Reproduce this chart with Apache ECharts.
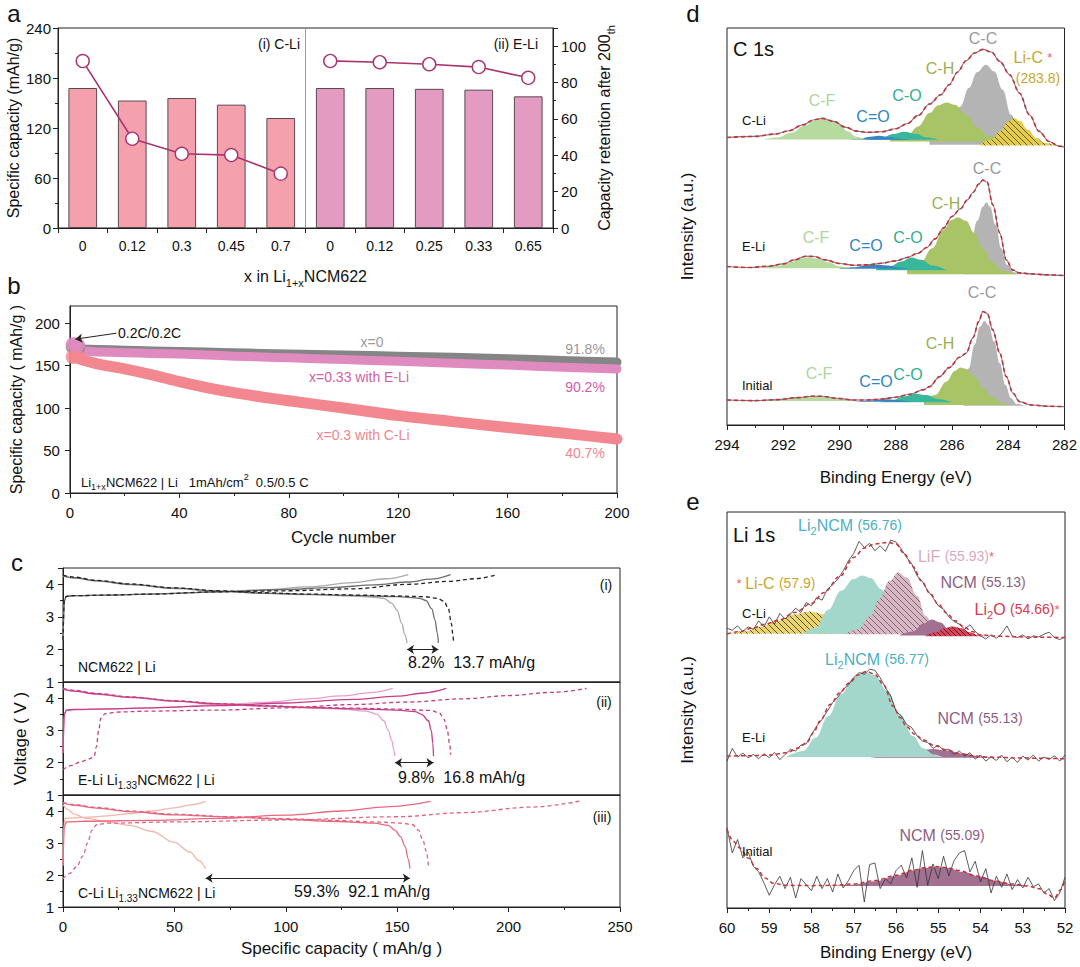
<!DOCTYPE html>
<html><head><meta charset="utf-8">
<script src="https://cdn.jsdelivr.net/npm/echarts@6/dist/echarts.min.js"></script>
<style>html,body{margin:0;padding:0;background:#fff}#chart{width:1080px;height:967px}</style>
</head><body><div id="chart"></div>
<script>
const FONT = 'Arial, "Liberation Sans", Helvetica, sans-serif';

// ---------------- Panel a ----------------
const aCategories = ['0','0.12','0.3','0.45','0.7','0','0.12','0.25','0.33','0.65'];
const aCapacityCLi = [168, 153, 156, 148, 132];
const aCapacityELi = [168, 168, 167, 166, 158];
const aRetentionCLi = [91.8, 49.1, 40.8, 40.1, 29.9];
const aRetentionELi = [91.9, 91.2, 90.1, 88.5, 82.6];

// ---------------- Panel b ----------------
const bFormCycles = [1, 2, 3];
const bFormX0 = [172, 171, 171];
const bFormELi = [175, 175, 174];
const bFormCLi = [160, 161, 160];
const bCycles = [4, 10, 20, 30, 40, 50, 60, 70, 80, 100, 120, 140, 160, 180, 200];
const bX0  = [169.5, 168.8, 168, 167.2, 166.5, 165.8, 165, 164.2, 163.5, 162.3, 161, 159.6, 158, 156, 154];
const bELi = [167, 166, 165, 164.2, 163.5, 162.3, 161, 160, 159, 157, 155, 152.6, 150.5, 148, 146];
const bCLi = [157, 152, 146, 139, 131, 124, 118, 113, 108.5, 100, 91, 84, 77, 70.5, 63.5];
const bArrow = [[17, 188], [2, 181]];

// ---------------- Panel c (capacity mAh/g, voltage V) ----------------
const c1DashCharge  = [[0,2.3],[0.6,3.5],[1.5,3.63],[5,3.65],[20,3.67],[40,3.7],[70,3.77],[100,3.8],[130,3.86],[155,4.0],[173,4.09],[185,4.17],[195,4.3]];
const c1DashDis     = [[0,4.28],[5,4.22],[15,4.12],[30,4.01],[50,3.89],[70,3.8],[90,3.74],[110,3.7],[130,3.67],[150,3.64],[162,3.62],[168,3.57],[171,3.48],[173,3.25],[174.3,2.8],[175,2.45],[175.3,2.2]];
const c1DarkCharge  = [[0,2.3],[0.6,3.5],[1.5,3.63],[5,3.65],[20,3.67],[40,3.7],[70,3.77],[100,3.84],[120,3.9],[140,3.98],[155,4.07],[165,4.16],[174,4.3]];
const c1DarkDis     = [[0,4.26],[5,4.2],[15,4.11],[30,4.0],[50,3.88],[70,3.79],[90,3.73],[110,3.69],[130,3.66],[150,3.62],[160,3.57],[163,3.5],[165.5,3.25],[167,2.9],[168,2.5],[168.5,2.2]];
const c1LightCharge = [[0,2.3],[0.6,3.5],[1.5,3.63],[5,3.65],[20,3.67],[40,3.7],[70,3.77],[90,3.83],[110,3.92],[130,4.05],[145,4.17],[155,4.3]];
const c1LightDis    = [[0,4.25],[5,4.19],[15,4.1],[30,3.99],[50,3.87],[70,3.78],[90,3.72],[110,3.68],[130,3.64],[140,3.6],[144,3.57],[147.5,3.42],[150,3.2],[152,2.8],[153.5,2.45],[154.4,2.2]];

const c2DashCharge  = [[0,1.78],[4,1.92],[8,2.03],[12,2.12],[14,2.2],[15,2.5],[16,3.0],[17,3.38],[19,3.52],[24,3.57],[40,3.6],[70,3.63],[100,3.7],[130,3.8],[155,3.88],[180,3.98],[200,4.08],[220,4.18],[235,4.3]];
const c2DashDis     = [[0,4.3],[5,4.24],[15,4.15],[30,4.04],[50,3.92],[70,3.83],[90,3.77],[110,3.72],[130,3.69],[150,3.66],[165,3.62],[169,3.54],[171,3.35],[172.5,3.0],[173.5,2.6],[174,2.25]];
const c2DarkCharge  = [[0,2.3],[0.6,3.5],[1.5,3.63],[5,3.65],[20,3.67],[40,3.7],[70,3.77],[100,3.85],[130,3.96],[150,4.06],[162,4.16],[172,4.3]];
const c2DarkDis     = [[0,4.28],[5,4.22],[15,4.13],[30,4.03],[50,3.91],[70,3.82],[90,3.76],[110,3.71],[130,3.67],[150,3.63],[158,3.58],[161,3.5],[164,3.3],[165.3,3.0],[166,2.6],[166.3,2.2]];
const c2LightCharge = [[0,2.3],[0.6,3.5],[1.5,3.62],[5,3.64],[20,3.66],[40,3.7],[70,3.79],[90,3.87],[110,3.98],[125,4.07],[138,4.17],[148,4.3]];
const c2LightDis    = [[0,4.28],[5,4.22],[15,4.12],[30,4.02],[50,3.9],[70,3.81],[90,3.75],[110,3.7],[125,3.66],[136,3.6],[141,3.5],[144,3.3],[146,3.0],[147.5,2.7],[148.5,2.4],[149,2.2]];

const c3DashCharge  = [[0,1.88],[3,2.05],[6,2.25],[9,2.6],[11,3.0],[13,3.4],[15,3.57],[20,3.62],[50,3.66],[100,3.72],[150,3.82],[180,3.95],[210,4.12],[233,4.32]];
const c3DashDis     = [[0,4.27],[5,4.2],[15,4.11],[30,4.0],[50,3.9],[75,3.82],[100,3.76],[120,3.71],[140,3.66],[152,3.62],[157,3.57],[159.5,3.4],[161.5,3.1],[163,2.75],[164,2.3]];
const c3SolidCharge = [[0,2.3],[0.6,3.5],[1.5,3.66],[10,3.68],[40,3.71],[70,3.77],[100,3.87],[125,4.0],[145,4.13],[165,4.3]];
const c3SolidDis    = [[0,4.25],[5,4.18],[15,4.09],[30,3.98],[50,3.88],[75,3.81],[100,3.74],[120,3.68],[140,3.62],[146,3.55],[149,3.4],[151.5,3.2],[153.5,2.9],[155,2.5],[155.7,2.2]];
const c3LightCharge = [[0,2.3],[0.4,3.6],[1,3.77],[10,3.8],[20,3.85],[30,3.92],[40,4.0],[50,4.1],[58,4.2],[64,4.3]];
const c3LightDis    = [[0,4.2],[2,4.05],[5,3.9],[10,3.78],[20,3.66],[30,3.55],[40,3.36],[50,3.02],[57,2.72],[61,2.45],[64,2.2]];
const cArrows = [[154.4, 168.5, 2.0], [149, 166.3, 2.0], [64, 155.7, 1.9]];

// ---------------- Panel d (binding energy eV, offset intensity) ----------------
const dCLiEnv = [[294,862],[293,865],[292.3,872],[291.8,882],[291.3,900],[290.9,915],[290.6,919],[290.2,910],[289.8,893],[289.4,881],[289,877],[288.5,879],[288,888],[287.6,903],[287.2,928],[286.8,962],[286.4,990],[286.1,1020],[285.8,1058],[285.5,1092],[285.2,1115],[284.9,1126],[284.6,1118],[284.3,1090],[283.95,1050],[283.6,995],[283.25,930],[282.9,880],[282.55,850],[282.2,836],[282,833]];
const dCLiCF = [[292.7,856],[292.2,862],[291.7,876],[291.2,899],[290.9,912],[290.6,917],[290.3,912],[290,900],[289.7,880],[289.4,864],[289.1,857]];
const dCLiCdO = [[289.7,855],[289.3,858],[288.9,864],[288.6,867],[288.3,864],[287.9,858],[287.5,855]];
const dCLiCO = [[289,855],[288.5,860],[288.1,872],[287.7,879],[287.3,873],[286.9,862],[286.5,856]];
const dCLiCH = [[288.2,855],[287.6,868],[287.2,895],[286.8,935],[286.5,958],[286.2,967],[285.9,960],[285.5,930],[285.1,892],[284.7,866],[284.2,850]];
const dCLiCC = [[286.8,855],[286.4,880],[286,920],[285.7,955],[285.4,1010],[285.1,1058],[284.8,1080],[284.5,1060],[284.2,1005],[283.9,930],[283.6,880],[283.3,855],[283,845],[282.6,840]];
const dCLiLiC = [[285,842],[284.6,855],[284.3,880],[284,910],[283.8,920],[283.6,912],[283.3,885],[283,860],[282.7,845],[282.3,838]];

const dELiEnv = [[294,475],[293.2,472],[292.5,476],[292,483],[291.6,495],[291.2,506],[290.9,505],[290.5,495],[290,484],[289.5,479],[289,480],[288.5,485],[288,492],[287.6,502],[287.2,515],[286.9,532],[286.6,558],[286.3,590],[286,625],[285.7,648],[285.45,675],[285.25,697],[285.05,722],[284.9,734],[284.75,728],[284.55,660],[284.3,575],[284.07,495],[283.85,465],[283.6,456],[283.2,453],[282.6,450],[282,448]];
const dELiCF = [[292.7,472],[292.2,477],[291.7,489],[291.4,499],[291.1,503],[290.8,499],[290.4,488],[290,476],[289.6,470]];
const dELiCdO = [[290,470],[289.5,473],[289,479],[288.7,481],[288.3,478],[287.9,472],[287.5,468]];
const dELiCO = [[288.7,468],[288.2,476],[287.8,490],[287.45,502],[287.1,495],[286.7,478],[286.2,464]];
const dELiCH = [[287.6,465],[287.1,490],[286.7,530],[286.3,585],[286,615],[285.8,623],[285.5,612],[285.2,575],[284.9,530],[284.6,490],[284.2,462],[283.7,452]];
const dELiCC = [[285.6,460],[285.3,560],[285.1,612],[284.9,655],[284.78,668],[284.65,655],[284.45,600],[284.25,530],[284.05,480],[283.8,458],[283.5,452]];

const dIniEnv = [[294,75],[293,73],[292.2,76],[291.5,82],[291,86],[290.6,86],[290.1,80],[289.5,75],[289,75],[288.5,78],[288,83],[287.5,92],[287,106],[286.8,115],[286.44,145],[286.1,172],[285.73,203],[285.5,215],[285.25,262],[285.05,310],[284.9,340],[284.75,335],[284.55,285],[284.3,215],[284.07,145],[283.83,95],[283.6,70],[283.2,60],[282.5,56],[282,55]];
const dIniCF = [[292.8,72],[292.2,75],[291.6,81],[291.1,85],[290.8,86],[290.4,83],[289.9,77],[289.4,72]];
const dIniCdO = [[289.5,70],[289,73],[288.6,76],[288.3,77],[287.9,74],[287.5,70]];
const dIniCO = [[288.6,68],[288.1,75],[287.7,86],[287.3,94],[286.9,90],[286.5,78],[286,68]];
const dIniCH = [[287,68],[286.6,90],[286.2,130],[285.9,162],[285.7,172],[285.5,168],[285.2,145],[284.9,112],[284.6,85],[284.2,66],[283.9,60]];
const dIniCC = [[285.6,100],[285.4,170],[285.2,240],[285,295],[284.85,312],[284.7,300],[284.5,250],[284.3,185],[284.1,120],[283.9,80],[283.7,63],[283.4,58]];

// ---------------- Panel e (binding energy eV, offset intensity) ----------------
const eCLiRaw = [[60,838],[59.875,832],[59.75,845],[59.625,828],[59.5,842],[59.375,835],[59.25,860],[59.125,842],[59,872],[58.875,850],[58.75,882],[58.625,866],[58.5,880],[58.375,898],[58.25,885],[58.125,915],[58,905],[57.875,930],[57.75,922],[57.625,955],[57.5,968],[57.375,985],[57.25,1010],[57.125,1040],[57,1062],[56.875,1098],[56.75,1080],[56.625,1092],[56.5,1070],[56.375,1085],[56.25,1068],[56.125,1102],[56,1096],[55.875,1075],[55.75,1050],[55.625,1030],[55.5,995],[55.375,978],[55.25,950],[55.125,930],[55,905],[54.875,895],[54.75,872],[54.625,858],[54.5,850],[54.375,835],[54.25,848],[54.125,828],[54,815],[53.875,806],[53.75,818],[53.625,808],[53.5,822],[53.375,845],[53.25,815],[53.125,810],[53,818],[52.875,806],[52.75,815],[52.625,812],[52.5,820],[52.375,826],[52.25,810],[52.125,804],[52,812]];
const eCLiFit = [[60,821],[59.7,828],[59.4,838],[59.1,850],[58.75,863],[58.4,885],[58,912],[57.7,945],[57.33,993],[57,1050],[56.75,1078],[56.5,1090],[56.2,1095],[56,1090],[55.8,1060],[55.6,1023],[55.4,980],[55.2,943],[55,910],[54.8,883],[54.6,860],[54.4,843],[54.2,828],[54,818],[53.6,814],[53,812],[52.5,811],[52,810]];
const eCLiLiC = [[60,821],[59.6,828],[59.2,842],[58.8,860],[58.4,879],[58.05,888],[57.7,880],[57.4,862],[57.1,840],[56.8,826],[56.5,821]];
const eCLiLi2NCM = [[58.2,822],[57.9,840],[57.6,893],[57.3,950],[57,985],[56.8,996],[56.6,988],[56.35,955],[56.1,900],[55.85,850],[55.6,826],[55.3,821]];
const eCLiLiF = [[57.2,821],[56.9,835],[56.6,875],[56.4,925],[56.15,980],[55.95,1005],[55.75,990],[55.5,935],[55.3,875],[55.1,840],[54.85,825],[54.6,820]];
const eCLiNCM = [[55.9,818],[55.6,828],[55.35,852],[55.15,864],[54.95,855],[54.75,835],[54.5,820],[54.3,816]];
const eCLiLi2O = [[55.3,816],[55.05,826],[54.85,838],[54.66,843],[54.45,838],[54.25,826],[54.05,817],[53.85,814]];

const eELiRaw = [[60,440],[59.875,478],[59.75,452],[59.625,464],[59.5,450],[59.375,460],[59.25,447],[59.125,462],[59,450],[58.875,466],[58.75,444],[58.625,460],[58.5,475],[58.375,470],[58.25,488],[58.125,492],[58,520],[57.875,545],[57.75,565],[57.625,590],[57.5,615],[57.375,632],[57.25,655],[57.125,668],[57,690],[56.875,705],[56.75,700],[56.625,715],[56.5,712],[56.375,690],[56.25,660],[56.125,635],[56,590],[55.875,575],[55.75,550],[55.625,540],[55.5,515],[55.375,500],[55.25,496],[55.125,478],[55,488],[54.875,472],[54.75,476],[54.625,460],[54.5,470],[54.375,455],[54.25,465],[54.125,446],[54,458],[53.875,440],[53.75,452],[53.625,442],[53.5,458],[53.375,438],[53.25,452],[53.125,436],[53,455],[52.875,443],[52.75,458],[52.625,440],[52.5,452],[52.375,445],[52.25,456],[52.125,440],[52,458]];
const eELiFit = [[60,455],[59.5,456],[59,458],[58.6,465],[58.3,480],[58.1,497],[57.95,525],[57.8,560],[57.55,610],[57.33,645],[57.1,675],[56.9,698],[56.7,708],[56.5,700],[56.3,670],[56.07,605],[55.9,570],[55.75,543],[55.55,520],[55.35,503],[55.1,487],[54.8,473],[54.5,463],[54.2,456],[53.8,452],[53,449],[52,447]];
const eELiLi2NCM = [[58.6,452],[58.2,470],[57.9,510],[57.6,575],[57.3,640],[57,690],[56.77,708],[56.5,697],[56.2,650],[55.9,580],[55.6,515],[55.35,478],[55.1,460],[54.9,453]];
const eELiNCM = [[56.6,450],[56.2,455],[55.8,465],[55.4,473],[55.13,476],[54.8,472],[54.4,462],[54,454],[53.6,450]];

const eIniRaw = [[60,240],[59.875,165],[59.75,205],[59.625,150],[59.5,168],[59.375,125],[59.25,108],[59.125,75],[59,38],[58.875,70],[58.75,95],[58.625,58],[58.5,92],[58.375,30],[58.25,88],[58.125,70],[58,52],[57.875,95],[57.75,58],[57.625,88],[57.5,48],[57.375,102],[57.25,60],[57.125,82],[57,112],[56.875,128],[56.75,18],[56.625,130],[56.5,135],[56.375,58],[56.25,88],[56.125,72],[56,112],[55.875,128],[55.75,90],[55.625,150],[55.5,62],[55.375,172],[55.25,68],[55.125,132],[55,88],[54.875,155],[54.75,96],[54.625,142],[54.5,165],[54.375,172],[54.25,108],[54.125,140],[54,78],[53.875,118],[53.75,45],[53.625,95],[53.5,62],[53.375,102],[53.25,55],[53.125,85],[53,60],[52.875,92],[52.75,64],[52.625,72],[52.5,45],[52.375,58],[52.25,22],[52.125,45],[52,92]];
const eIniFit = [[60,236],[59.85,200],[59.7,180],[59.5,150],[59.3,118],[59.1,90],[58.9,74],[58.6,68],[58,67],[57.5,68],[57,72],[56.5,82],[56,98],[55.6,113],[55.3,121],[55.05,124],[54.8,121],[54.5,112],[54.1,96],[53.7,82],[53.3,73],[52.9,66],[52.6,58],[52.4,40],[52.25,30],[52.1,55],[52,85]];
const eIniNCM = [[57.6,66],[57,70],[56.5,80],[56,96],[55.6,112],[55.3,120],[55.05,123],[54.8,120],[54.4,108],[54,94],[53.6,80],[53.2,70],[52.8,66]];

// ================= helpers =================
const pts = (xs, ys) => xs.map((x, i) => [x, ys[i]]);
function hatch(bg, line, s) {
  s = s || 6;
  const c = document.createElement('canvas'); c.width = s; c.height = s;
  const g = c.getContext('2d');
  g.fillStyle = bg; g.fillRect(0, 0, s, s);
  g.strokeStyle = line; g.lineWidth = 1;
  g.beginPath();
  for (let k = -1; k <= 1; k++) { g.moveTo(k * s, 0); g.lineTo(k * s + s, s); }
  g.stroke();
  return { image: c, repeat: 'repeat' };
}
function mkRich(size, color, extra) {
  const LH = Math.round(size * 1.45), sh = Math.round(size * 0.28);
  const o = {
    n: { fontSize: size, fontFamily: FONT, color: color, fill: color, lineHeight: LH },
    s: { fontSize: Math.round(size * 0.68), fontFamily: FONT, color: color, fill: color, lineHeight: LH - 2 * sh, verticalAlign: 'bottom' },
    p: { fontSize: Math.round(size * 0.68), fontFamily: FONT, color: color, fill: color, lineHeight: LH - 2 * sh, verticalAlign: 'top' }
  };
  if (extra) for (const k in extra) o[k] = Object.assign({ fontFamily: FONT, lineHeight: LH }, extra[k], { fill: extra[k].color });
  return o;
}
function gt(x, y, text, size, color, align, rich) {
  return { type: 'text', x: x, y: y, silent: true, z: 100,
    style: { text: text, fontSize: size, fontFamily: FONT, fill: color, align: align || 'left', verticalAlign: 'middle',
      textAlign: align || 'left', textVerticalAlign: 'middle', rich: rich } };
}
const AX = '#222';
function valAxis(o) {
  return Object.assign({
    type: 'value', axisLine: { show: true, onZero: false, lineStyle: { color: AX, width: 1 } },
    axisTick: { show: true, length: 5, lineStyle: { color: AX } },
    minorTick: { show: true, splitNumber: 2, length: 3, lineStyle: { color: AX } },
    axisLabel: { color: '#111', fontSize: 14, fontFamily: FONT },
    splitLine: { show: false }, minorSplitLine: { show: false }
  }, o);
}
function lab(size, margin, extra) {
  return Object.assign({ color: '#111', fontSize: size, fontFamily: FONT, margin: margin }, extra || {});
}
function curve(xi, yi, data, color, dashed, w) {
  return { type: 'line', xAxisIndex: xi, yAxisIndex: yi, data: data, showSymbol: false, symbol: 'none', silent: true,
    smooth: 0.35, smoothMonotone: 'x',
    lineStyle: { color: color, width: w || 1.3, type: dashed ? [4, 3] : 'solid' } };
}
function area(xi, yi, data, color, opacity) {
  const origin = Math.min.apply(null, data.map(d => d[1]));
  return { type: 'line', xAxisIndex: xi, yAxisIndex: yi, data: data, showSymbol: false, symbol: 'none', silent: true,
    smooth: 0.4, smoothMonotone: 'x', lineStyle: { width: 0, opacity: 0 },
    areaStyle: { color: color, opacity: opacity == null ? 1 : opacity, origin: origin }, z: 2 };
}
function arrowLine(data, both) {
  return { silent: true, symbol: both ? ['arrow', 'arrow'] : ['none', 'arrow'], symbolSize: 7, animation: false,
    label: { show: false }, lineStyle: { color: '#222', width: 1, type: 'solid' }, data: data };
}

// ================= layout =================
const grids = [
  { left: 58, top: 28, width: 495, height: 200 },   // a
  { left: 69, top: 306, width: 548, height: 187 },  // b
  { left: 63, top: 568, width: 557, height: 114 },  // c i
  { left: 63, top: 682, width: 557, height: 113 },  // c ii
  { left: 63, top: 795, width: 557, height: 112 },  // c iii
  { left: 727, top: 28, width: 338, height: 397 },  // d
  { left: 727, top: 512, width: 338, height: 396 }  // e
].map(g => Object.assign({ show: true, borderColor: AX, borderWidth: 1, backgroundColor: 'transparent', containLabel: false }, g));

const richAx = mkRich(16, '#111');
const xAxes = [
  { type: 'category', gridIndex: 0, data: aCategories, axisLine: { lineStyle: { color: AX } },
    axisTick: { show: true, length: 5, lineStyle: { color: AX } }, axisLabel: lab(14, 11),
    name: '{n|x in Li}{s|1+x}{n|NCM622}', nameLocation: 'middle', nameGap: 37, nameTextStyle: { rich: richAx } },
  valAxis({ gridIndex: 1, min: 0, max: 200, interval: 40, axisLabel: lab(15, 12),
    name: 'Cycle number', nameLocation: 'middle', nameGap: 36, nameTextStyle: { fontSize: 17, color: '#111', fontFamily: FONT } }),
  valAxis({ gridIndex: 2, min: 0, max: 250, interval: 50, axisLabel: { show: false }, axisTick: { show: false }, minorTick: { show: false } }),
  valAxis({ gridIndex: 3, min: 0, max: 250, interval: 50, axisLabel: { show: false }, axisTick: { show: false }, minorTick: { show: false } }),
  valAxis({ gridIndex: 4, min: 0, max: 250, interval: 50, axisLabel: lab(15, 12),
    name: 'Specific capacity ( mAh/g )', nameLocation: 'middle', nameGap: 33, nameTextStyle: { fontSize: 17, color: '#111', fontFamily: FONT } }),
  valAxis({ gridIndex: 5, min: 282, max: 294, interval: 2, inverse: true, axisLabel: lab(15, 12),
    name: 'Binding Energy (eV)', nameLocation: 'middle', nameGap: 44, nameTextStyle: { fontSize: 17, color: '#111', fontFamily: FONT } }),
  valAxis({ gridIndex: 6, min: 52, max: 60, interval: 1, inverse: true, axisLabel: lab(15, 12),
    name: 'Binding Energy (eV)', nameLocation: 'middle', nameGap: 36, nameTextStyle: { fontSize: 17, color: '#111', fontFamily: FONT } }),
  { type: 'value', gridIndex: 0, min: 0, max: 10, show: false }
];
const hiddenY = (gi, max, name) => ({ type: 'value', gridIndex: gi, min: 0, max: max, axisLine: { show: false }, axisTick: { show: false },
  axisLabel: { show: false }, splitLine: { show: false }, name: name, nameLocation: 'middle', nameGap: 31,
  nameTextStyle: { fontSize: 17, color: '#111', fontFamily: FONT } });
const yAxes = [
  valAxis({ gridIndex: 0, min: 0, max: 240, interval: 60, axisLabel: lab(15, 7),
    name: 'Specific capacity (mAh/g)', nameLocation: 'middle', nameGap: 37, nameRotate: 90, nameTextStyle: { fontSize: 16, color: '#111', fontFamily: FONT } }),
  valAxis({ gridIndex: 0, position: 'right', min: 0, max: 110, interval: 20, axisLabel: lab(15, 8, { showMaxLabel: false }),
    name: '{n|Capacity retention after 200}{s|th}', nameLocation: 'middle', nameGap: 40, nameRotate: 90, nameTextStyle: { rich: richAx } }),
  valAxis({ gridIndex: 1, min: 0, max: 220, interval: 50, minorTick: { show: false }, axisLabel: lab(15, 10, { showMaxLabel: false }),
    name: 'Specific capacity ( mAh/g )', nameLocation: 'middle', nameGap: 44, nameTextStyle: { fontSize: 16, color: '#111', fontFamily: FONT } }),
  valAxis({ gridIndex: 2, min: 1, max: 4.5, interval: 1, axisLabel: lab(15, 9, { showMaxLabel: false }) }),
  valAxis({ gridIndex: 3, min: 1, max: 4.5, interval: 1, axisLabel: lab(15, 9, { showMaxLabel: false }),
    name: 'Voltage ( V )', nameLocation: 'middle', nameGap: 34, nameTextStyle: { fontSize: 17, color: '#111', fontFamily: FONT } }),
  valAxis({ gridIndex: 4, min: 1, max: 4.5, interval: 1, axisLabel: lab(15, 9, { showMaxLabel: false }) }),
  hiddenY(5, 1190, 'Intensity (a.u.)'),
  hiddenY(6, 1186, 'Intensity (a.u.)')
];

// ================= series =================
const S = [];
// panel a
const aBarColors = { cli: '#F4A1AD', eli: '#E39BC1' };
S.push({ type: 'bar', xAxisIndex: 0, yAxisIndex: 0, barWidth: '58%', silent: true,
  data: aCapacityCLi.map(v => ({ value: v, itemStyle: { color: aBarColors.cli } }))
    .concat(aCapacityELi.map(v => ({ value: v, itemStyle: { color: aBarColors.eli } }))),
  itemStyle: { borderColor: '#5a4a4f', borderWidth: 1 } });
const retStyle = { type: 'line', xAxisIndex: 0, yAxisIndex: 1, symbol: 'circle', symbolSize: 13, silent: true, z: 5,
  lineStyle: { color: '#A8356F', width: 1.6 }, itemStyle: { color: '#fff', borderColor: '#A8356F', borderWidth: 1.4 } };
S.push(Object.assign({}, retStyle, { data: aRetentionCLi.concat(aRetentionELi.map(() => '-')) }));
S.push(Object.assign({}, retStyle, { data: aRetentionCLi.map(() => '-').concat(aRetentionELi) }));
S.push({ type: 'line', xAxisIndex: 7, yAxisIndex: 0, data: [], silent: true,
  markLine: { silent: true, symbol: ['none', 'none'], label: { show: false }, lineStyle: { color: '#999', width: 1, type: 'solid' }, data: [{ xAxis: 5 }] } });

// panel b
const bCol = { x0: '#858585', eli: '#E08BBF', cli: '#F2878F' };
S.push({ type: 'line', xAxisIndex: 1, yAxisIndex: 2, data: pts(bCycles, bCLi), showSymbol: false, symbol: 'none', silent: true, smooth: 0.3,
  lineStyle: { color: bCol.cli, width: 11, cap: 'round', join: 'round' } });
S.push({ type: 'line', xAxisIndex: 1, yAxisIndex: 2, data: pts(bCycles, bX0), showSymbol: false, symbol: 'none', silent: true, smooth: 0.3,
  lineStyle: { color: bCol.x0, width: 9, cap: 'round', join: 'round' },
  markLine: arrowLine([[{ coord: bArrow[0] }, { coord: bArrow[1] }]], false) });
S.push({ type: 'line', xAxisIndex: 1, yAxisIndex: 2, data: pts(bCycles, bELi), showSymbol: false, symbol: 'none', silent: true, smooth: 0.3,
  lineStyle: { color: bCol.eli, width: 9, cap: 'round', join: 'round' } });
[[bFormX0, bCol.x0], [bFormCLi, bCol.cli], [bFormELi, bCol.eli]].forEach(([ys, col]) => {
  S.push({ type: 'scatter', xAxisIndex: 1, yAxisIndex: 2, data: pts(bFormCycles, ys), symbolSize: 14, silent: true, itemStyle: { color: col }, z: 4 });
});

// panel c
const cSets = [
  { xi: 2, yi: 3, cols: ['#222222', '#6E6E6E', '#A9A9A9'], d: [c1DashCharge, c1DashDis, c1DarkCharge, c1DarkDis, c1LightCharge, c1LightDis] },
  { xi: 3, yi: 4, cols: ['#C2407F', '#C93B8B', '#E7A0CB'], d: [c2DashCharge, c2DashDis, c2DarkCharge, c2DarkDis, c2LightCharge, c2LightDis] },
  { xi: 4, yi: 5, cols: ['#E2637B', '#E8697F', '#F5B5A8'], d: [c3DashCharge, c3DashDis, c3SolidCharge, c3SolidDis, c3LightCharge, c3LightDis] }
];
cSets.forEach((set, k) => {
  const [dc, dd, sc, sd, lc, ld] = set.d;
  S.push(curve(set.xi, set.yi, lc, set.cols[2], false));
  S.push(curve(set.xi, set.yi, ld, set.cols[2], false));
  S.push(curve(set.xi, set.yi, sc, set.cols[1], false));
  S.push(curve(set.xi, set.yi, sd, set.cols[1], false));
  S.push(curve(set.xi, set.yi, dc, set.cols[0], true));
  const last = curve(set.xi, set.yi, dd, set.cols[0], true);
  const a = cArrows[k];
  last.markLine = arrowLine([[{ coord: [a[0], a[2]] }, { coord: [a[1], a[2]] }]], true);
  S.push(last);
});

// panel d
const dCol = { cf: '#B7DA9F', cdo: '#3A84C1', co: '#38B79A', ch: '#A8C466', cc: '#B4B4B4' };
const liCHatch = hatch('#E3CC4C', '#6b5d2a', 6);
[[dCLiEnv, [[dCLiCC, dCol.cc], [dCLiCH, dCol.ch], [dCLiCO, dCol.co], [dCLiCdO, dCol.cdo], [dCLiCF, dCol.cf], [dCLiLiC, liCHatch]]],
 [dELiEnv, [[dELiCC, dCol.cc], [dELiCH, dCol.ch], [dELiCO, dCol.co], [dELiCdO, dCol.cdo], [dELiCF, dCol.cf]]],
 [dIniEnv, [[dIniCC, dCol.cc], [dIniCH, dCol.ch], [dIniCO, dCol.co], [dIniCdO, dCol.cdo], [dIniCF, dCol.cf]]]
].forEach(([env, comps]) => {
  comps.forEach(([d, c]) => S.push(area(5, 6, d, c)));
  S.push(Object.assign(curve(5, 6, env, '#7a7a7a', false, 1.1), { z: 3 }));
  S.push(Object.assign(curve(5, 6, env, '#C8303A', true, 1.6), { z: 4 }));
});

// panel e
const eCol = { li2ncm: '#A3D7CB', ncm: '#A27090' };
const eLiC = hatch('#E9D470', '#5e5330', 6);
const eLiF = hatch('#D8B6C3', '#7d6c72', 6);
const eLi2O = hatch('#DE4159', '#4a2028', 5);
[[eCLiRaw, eCLiFit, [[eCLiLiC, eLiC], [eCLiLi2NCM, eCol.li2ncm], [eCLiLiF, eLiF], [eCLiNCM, eCol.ncm], [eCLiLi2O, eLi2O]]],
 [eELiRaw, eELiFit, [[eELiNCM, eCol.ncm], [eELiLi2NCM, eCol.li2ncm]]],
 [eIniRaw, eIniFit, [[eIniNCM, eCol.ncm]]]
].forEach(([raw, fit, comps]) => {
  comps.forEach(([d, c]) => S.push(area(6, 7, d, c)));
  S.push(Object.assign({ type: 'line', xAxisIndex: 6, yAxisIndex: 7, data: raw, showSymbol: false, symbol: 'none', silent: true,
    lineStyle: { color: '#333', width: 0.8 } }, { z: 3 }));
  S.push(Object.assign(curve(6, 7, fit, '#C8303A', true, 1.5), { z: 4 }));
});

// ================= text annotations =================
const G = [];
[['a', 14, 13], ['b', 14, 285], ['c', 17, 562], ['d', 693, 13], ['e', 693, 501]].forEach(([t, x, y]) => G.push(gt(x, y, t, 24, '#111', 'center')));
G.push(gt(300, 44, '(i) C-Li', 14, '#111', 'right'));
G.push(gt(538, 44, '(ii) E-Li', 14, '#111', 'right'));
// b
G.push(gt(118, 333, '0.2C/0.2C', 14, '#111', 'left'));
G.push(gt(372, 342, 'x=0', 14, '#9a9a9a', 'center'));
G.push(gt(585, 349, '91.8%', 14, '#9a9a9a', 'center'));
G.push(gt(359, 377, 'x=0.33 with E-Li', 14, '#D35EA6', 'center'));
G.push(gt(585, 387, '90.2%', 14, '#D35EA6', 'center'));
G.push(gt(363, 435, 'x=0.3 with C-Li', 14, '#F0868F', 'center'));
G.push(gt(585, 453, '40.7%', 14, '#F0868F', 'center'));
G.push(gt(81, 482, '{n|Li}{s|1+x}{n|NCM622 | Li   1mAh/cm}{p|2}{n|  0.5/0.5 C}', 13, '#111', 'left', mkRich(13, '#111')));
// c
G.push(gt(78, 667, 'NCM622 | Li', 14, '#111', 'left'));
G.push(gt(78, 780, '{n|E-Li Li}{s|1.33}{n|NCM622 | Li}', 14, '#111', 'left', mkRich(14, '#111')));
G.push(gt(78, 893, '{n|C-Li Li}{s|1.33}{n|NCM622 | Li}', 14, '#111', 'left', mkRich(14, '#111')));
G.push(gt(606, 585, '(i)', 14, '#111', 'center'));
G.push(gt(604, 702, '(ii)', 14, '#111', 'center'));
G.push(gt(602, 817, '(iii)', 14, '#111', 'center'));
G.push(gt(408, 662, '8.2%  13.7 mAh/g', 16, '#111', 'left'));
G.push(gt(398, 777, '9.8%  16.8 mAh/g', 16, '#111', 'left'));
G.push(gt(294, 891, '59.3%  92.1 mAh/g', 16, '#111', 'left'));
// d
const dl = { cf: '#AED69A', cdo: '#2E86C1', co: '#2FAE8F', ch: '#9AAF52', cc: '#9a9a9a', lic: '#C9A72C', star: '#E8607A' };
G.push(gt(733, 49, 'C 1s', 20, '#111', 'left'));
G.push(gt(742, 120, 'C-Li', 13, '#111', 'left'));
G.push(gt(742, 246, 'E-Li', 13, '#111', 'left'));
G.push(gt(742, 385, 'Initial', 13, '#111', 'left'));
[[[822, 100], [873, 116], [907, 95], [940, 68], [983, 38]],
 [[816, 237], [866, 245], [908, 237], [946, 203], [987, 168]],
 [[819, 373], [876, 381], [908, 374], [940, 343], [982, 292]]].forEach(row => {
  const names = [['C-F', dl.cf], ['C=O', dl.cdo], ['C-O', dl.co], ['C-H', dl.ch], ['C-C', dl.cc]];
  row.forEach((p, i) => G.push(gt(p[0], p[1], names[i][0], 16, names[i][1], 'center')));
});
G.push(gt(1033, 57, '{y|Li-C }{st|*}', 16, dl.lic, 'center', mkRich(16, dl.lic, { y: { fontSize: 16, color: dl.lic }, st: { fontSize: 13, color: dl.star } })));
G.push(gt(1038, 78, '(283.8)', 14, dl.lic, 'center'));
// e
const el = { li2ncm: '#4DAFC1', lif: '#D9AABD', ncm: '#8E5E84', li2o: '#D63A4E', lic: '#C9A72C', star: '#E8607A' };
G.push(gt(733, 535, 'Li 1s', 20, '#111', 'left'));
G.push(gt(742, 613, 'C-Li', 13, '#111', 'left'));
G.push(gt(742, 737, 'E-Li', 13, '#111', 'left'));
G.push(gt(742, 851, 'Initial', 13, '#111', 'left'));
const richE = (c) => mkRich(16, c, { m: { fontSize: 14, color: c }, st: { fontSize: 13, color: el.star } });
G.push(gt(850, 525, '{n|Li}{s|2}{n|NCM }{m|(56.76)}', 16, el.li2ncm, 'center', richE(el.li2ncm)));
G.push(gt(956, 556, '{n|LiF }{m|(55.93)}{st|*}', 16, el.lif, 'center', richE(el.lif)));
G.push(gt(776, 583, '{st|* }{n|Li-C }{m|(57.9)}', 16, el.lic, 'center', richE(el.lic)));
G.push(gt(983, 582, '{n|NCM }{m|(55.13)}', 16, el.ncm, 'center', richE(el.ncm)));
G.push(gt(1017, 609, '{n|Li}{s|2}{n|O }{m|(54.66)}{st|*}', 16, el.li2o, 'center', richE(el.li2o)));
G.push(gt(877, 659, '{n|Li}{s|2}{n|NCM }{m|(56.77)}', 16, el.li2ncm, 'center', richE(el.li2ncm)));
G.push(gt(980, 718, '{n|NCM }{m|(55.13)}', 16, el.ncm, 'center', richE(el.ncm)));
G.push(gt(942, 835, '{n|NCM }{m|(55.09)}', 16, el.ncm, 'center', richE(el.ncm)));

const chart = echarts.init(document.getElementById('chart'), null, { renderer: 'svg', width: 1080, height: 967 });
chart.setOption({
  animation: false,
  backgroundColor: '#fff',
  textStyle: { fontFamily: FONT },
  grid: grids, xAxis: xAxes, yAxis: yAxes, series: S, graphic: { elements: G }
});
</script></body></html>
